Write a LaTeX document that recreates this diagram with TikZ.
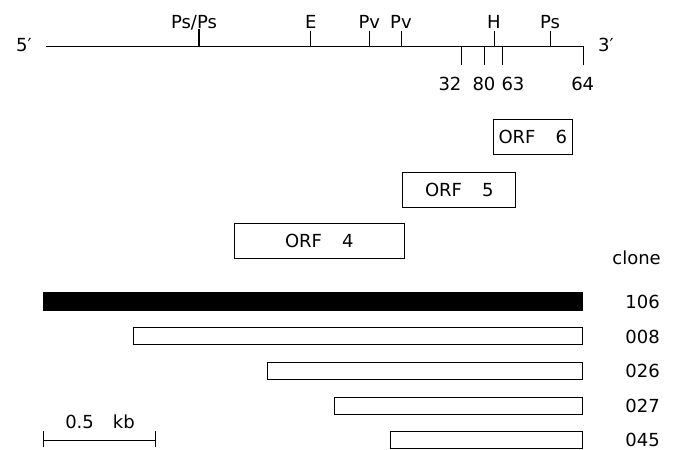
\documentclass[tikz,border=0pt]{standalone}
\usepackage{fontspec}
\setmainfont{DejaVu Sans}
\begin{document}
\begin{tikzpicture}[x=1pt,y=-1pt,
  every node/.style={inner sep=0pt, font=\fontsize{18}{20}\selectfont},
  mapline/.style={line width=1pt},
  sitetick/.style={line width=1pt},
  boldtick/.style={line width=2.4pt},
  lbl/.style={anchor=base},
  orfbox/.style={draw, line width=0.9pt, minimum height=35pt},
  clonebar/.style={draw, line width=0.9pt, anchor=east, minimum height=17pt},
  clonelbl/.style={anchor=base east}]
\useasboundingbox (0,0) rectangle (681,450);

% restriction map
\coordinate (L) at (46,46.7);
\coordinate (R) at (583.5,46.7);
\draw[mapline] (L) -- (R);
\node[lbl] (five) at (24,51.3) {5′};
\node[lbl] (three) at (606,51.3) {3′};

% sites above the line
\coordinate (pspsB) at (199,46.7);  \coordinate (pspsT) at (199,29);
\coordinate (eB) at (310.7,46.7);   \coordinate (eT) at (310.7,31);
\coordinate (pv1B) at (369.3,46.7); \coordinate (pv1T) at (369.3,31);
\coordinate (pv2B) at (401.3,46.7); \coordinate (pv2T) at (401.3,31);
\coordinate (hB) at (494,46.7);     \coordinate (hT) at (494,31);
\coordinate (psB) at (550,46.7);    \coordinate (psT) at (550,31);
\draw[boldtick] (pspsB) -- (pspsT);
\draw[sitetick] (eB) -- (eT) (pv1B) -- (pv1T) (pv2B) -- (pv2T) (hB) -- (hT) (psB) -- (psT);
\node[lbl] (lpsps) at (194,28) {Ps/Ps};
\node[lbl] (le) at (310.7,28) {E};
\node[lbl] (lpv1) at (369.3,28) {Pv};
\node[lbl] (lpv2) at (401,28) {Pv};
\node[lbl] (lh) at (494,28) {H};
\node[lbl] (lps) at (550,28) {Ps};

% primer positions below the line
\coordinate (p32T) at (461.7,46.7); \coordinate (p32B) at (461.7,65);
\coordinate (p80T) at (484,46.7);   \coordinate (p80B) at (484,65);
\coordinate (p63T) at (502,46.7);   \coordinate (p63B) at (502,65);
\coordinate (p64T) at (583.5,46.7); \coordinate (p64B) at (583.5,65);
\draw[sitetick] (p32T) -- (p32B) (p80T) -- (p80B) (p63T) -- (p63B) (p64T) -- (p64B);
\node[lbl] (l32) at (450,90) {32};
\node[lbl] (l80) at (484,90) {80};
\node[lbl] (l63) at (513,90) {63};
\node[lbl] (l64) at (582.7,90) {64};

% open reading frames
\node[orfbox, minimum width=79pt] (orf6) at (532.8,136.5) {ORF\hspace{20pt}6};
\node[orfbox, minimum width=113pt] (orf5) at (459.3,189.5) {ORF\hspace{20pt}5};
\node[orfbox, minimum width=170pt] (orf4) at (319.3,240.5) {ORF\hspace{20pt}4};

% clones
\node[clonelbl] (lclone) at (661,264.6) {clone};
\node[clonebar, fill=black, minimum height=18pt, minimum width=539pt] (c106) at (583,301.7) {};
\node[clonebar, minimum width=449pt] (c008) at (583,336.3) {};
\node[clonebar, minimum width=315pt] (c026) at (583,371) {};
\node[clonebar, minimum width=248.6pt] (c027) at (583,405.7) {};
\node[clonebar, minimum width=192.1pt] (c045) at (583,440.3) {};
\node[clonelbl] (l106) at (660,308.5) {106};
\node[clonelbl] (l008) at (660,343.2) {008};
\node[clonelbl] (l026) at (660,377.9) {026};
\node[clonelbl] (l027) at (660,412.5) {027};
\node[clonelbl] (l045) at (660,446.5) {045};

% scale bar
\coordinate (sL) at (43.3,440);
\coordinate (sR) at (155,440);
\coordinate (sLt) at (43.3,431); \coordinate (sLb) at (43.3,447);
\coordinate (sRt) at (155,431);  \coordinate (sRb) at (155,447);
\draw[mapline] (sL) -- (sR) (sLt) -- (sLb) (sRt) -- (sRb);
\node[lbl] (lscale) at (100,428.3) {0.5\hspace{19pt}kb};
\end{tikzpicture}
\end{document}
